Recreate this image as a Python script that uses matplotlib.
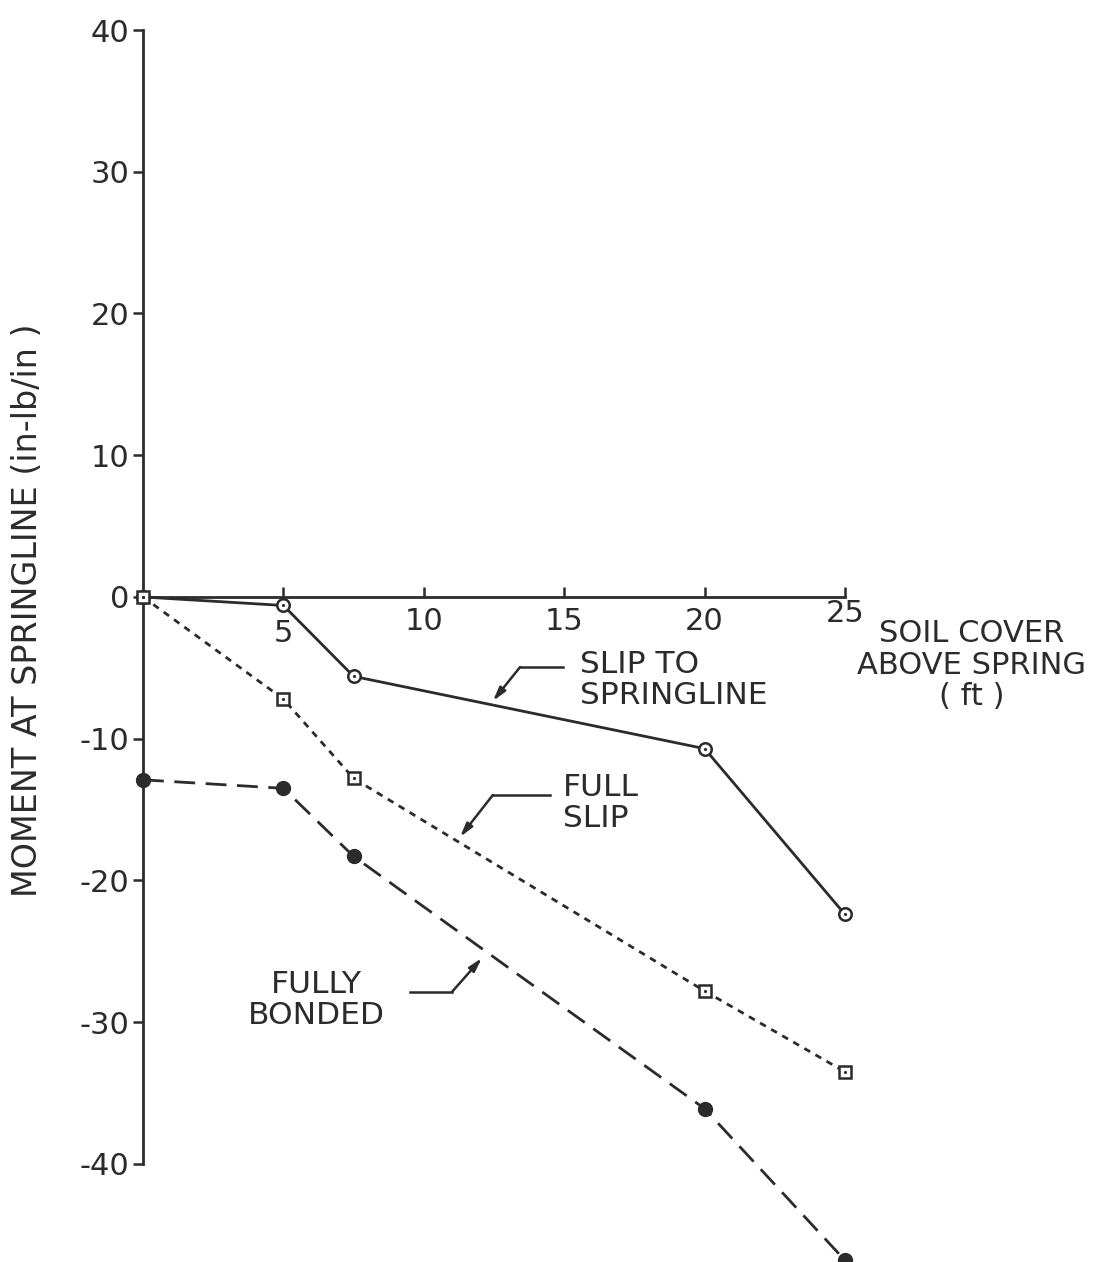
import matplotlib.pyplot as plt
import matplotlib.transforms as mtransforms

# Data (soil cover in ft, moment in in-lb/in)
cover_slip = [0, 5, 7.5, 20, 25]
moment_slip_to_springline = [0, -0.6, -5.6, -10.7, -22.4]

cover_full = [0, 5, 7.5, 20, 25]
moment_full_slip = [0, -7.2, -12.8, -27.8, -33.5]

cover_bonded = [0, 5, 7.5, 20, 25]
moment_fully_bonded = [-12.9, -13.5, -18.3, -36.1, -46.8]

x_ticks = [5, 10, 15, 20, 25]
y_ticks = [40, 30, 20, 10, 0, -10, -20, -30, -40]
y_tick_labels = ['40', '30', '20', '10', '0', '-10', '-20', '-30', '-40']

ink = '#2b2b2b'
plt.rcParams['font.family'] = ['DejaVu Sans']

fig = plt.figure(figsize=(10.99, 12.62), dpi=100)
# axes placed so that x=0..25 and y=40..-46 map like the original
ax = fig.add_axes([143 / 1099, (1262 - 1249) / 1262, 702 / 1099, 1219 / 1262])
ax.set_xlim(0, 25)
ax.set_ylim(-46, 40)

# Slip to springline: solid, open circle with centre dot
ax.plot(cover_slip, moment_slip_to_springline, '-', color=ink, lw=2.0,
        marker='o', ms=9, mfc='white', mec=ink, mew=1.8, clip_on=False, zorder=3)
ax.plot(cover_slip, moment_slip_to_springline, ls='none', marker='.', ms=2.5,
        color=ink, clip_on=False, zorder=4)

# Full slip: fine dashes, open square with centre dot
ax.plot(cover_full, moment_full_slip, color=ink, lw=2.0, dashes=(2.4, 2.2),
        marker='s', ms=8, mfc='white', mec=ink, mew=1.8, clip_on=False, zorder=3)
ax.plot(cover_full, moment_full_slip, ls='none', marker='.', ms=2.5,
        color=ink, clip_on=False, zorder=4)

# Fully bonded: long dashes, filled circle
ax.plot(cover_bonded, moment_fully_bonded, color=ink, lw=2.0, dashes=(7.5, 3.8),
        marker='o', ms=10, mfc=ink, mec=ink, clip_on=False, zorder=3)

# Axes styling
for side in ['top', 'right']:
    ax.spines[side].set_visible(False)
ax.spines['bottom'].set_position(('data', 0))
ax.spines['bottom'].set_bounds(0, 25)
ax.spines['left'].set_bounds(-40, 40)
for side in ['bottom', 'left']:
    ax.spines[side].set_color(ink)
    ax.spines[side].set_linewidth(2.0)

ax.set_xticks(x_ticks)
ax.set_xticklabels([str(t) for t in x_ticks])
ax.set_yticks(y_ticks)
ax.set_yticklabels(y_tick_labels)
ax.tick_params(axis='x', direction='in', length=7, width=1.8, color=ink,
               labelsize=22, labelcolor=ink, pad=7)
ax.tick_params(axis='y', direction='out', length=7, width=1.8, color=ink,
               labelsize=22, labelcolor=ink, pad=3)
# small nudges seen in the original lettering
xl = ax.get_xticklabels()
xl[0].set_transform(xl[0].get_transform() + mtransforms.ScaledTranslation(0, -12 / 100, fig.dpi_scale_trans))
xl[-1].set_transform(xl[-1].get_transform() + mtransforms.ScaledTranslation(0, 8 / 100, fig.dpi_scale_trans))

# Axis titles
fig.text(28 / 1099, 1 - 610 / 1262, 'MOMENT AT SPRINGLINE (in-lb/in )', rotation=90,
         ha='center', va='center', fontsize=24, color=ink)
ax.text(29.52, -4.8, 'SOIL COVER\nABOVE SPRING\n( ft )', ha='center', va='center',
        fontsize=22, color=ink, linespacing=1.12, clip_on=False)

# Curve labels with leaders
txt_kw = dict(fontsize=22.5, color=ink, linespacing=1.05, clip_on=False)
ax.text(15.56, -5.86, 'SLIP TO\nSPRINGLINE', ha='left', va='center', **txt_kw)
ax.text(14.96, -14.53, 'FULL\nSLIP', ha='left', va='center', **txt_kw)
ax.text(6.16, -28.43, 'FULLY\nBONDED', ha='center', va='center', **txt_kw)

leaders = [
    ((14.96, -4.94), (13.43, -4.94), (12.46, -7.34)),
    ((14.49, -13.97), (12.46, -13.97), (11.29, -16.93)),
    ((9.51, -27.87), (11.00, -27.87), (12.07, -25.47)),
]
for start, elbow, tip in leaders:
    ax.plot([start[0], elbow[0]], [start[1], elbow[1]], color=ink, lw=1.8)
    ax.annotate('', xy=tip, xytext=elbow,
                arrowprops=dict(arrowstyle='-|>,head_length=0.8,head_width=0.22',
                                color=ink, lw=1.8, shrinkA=0, shrinkB=0))

fig.savefig('out.png', dpi=100, facecolor='white')
